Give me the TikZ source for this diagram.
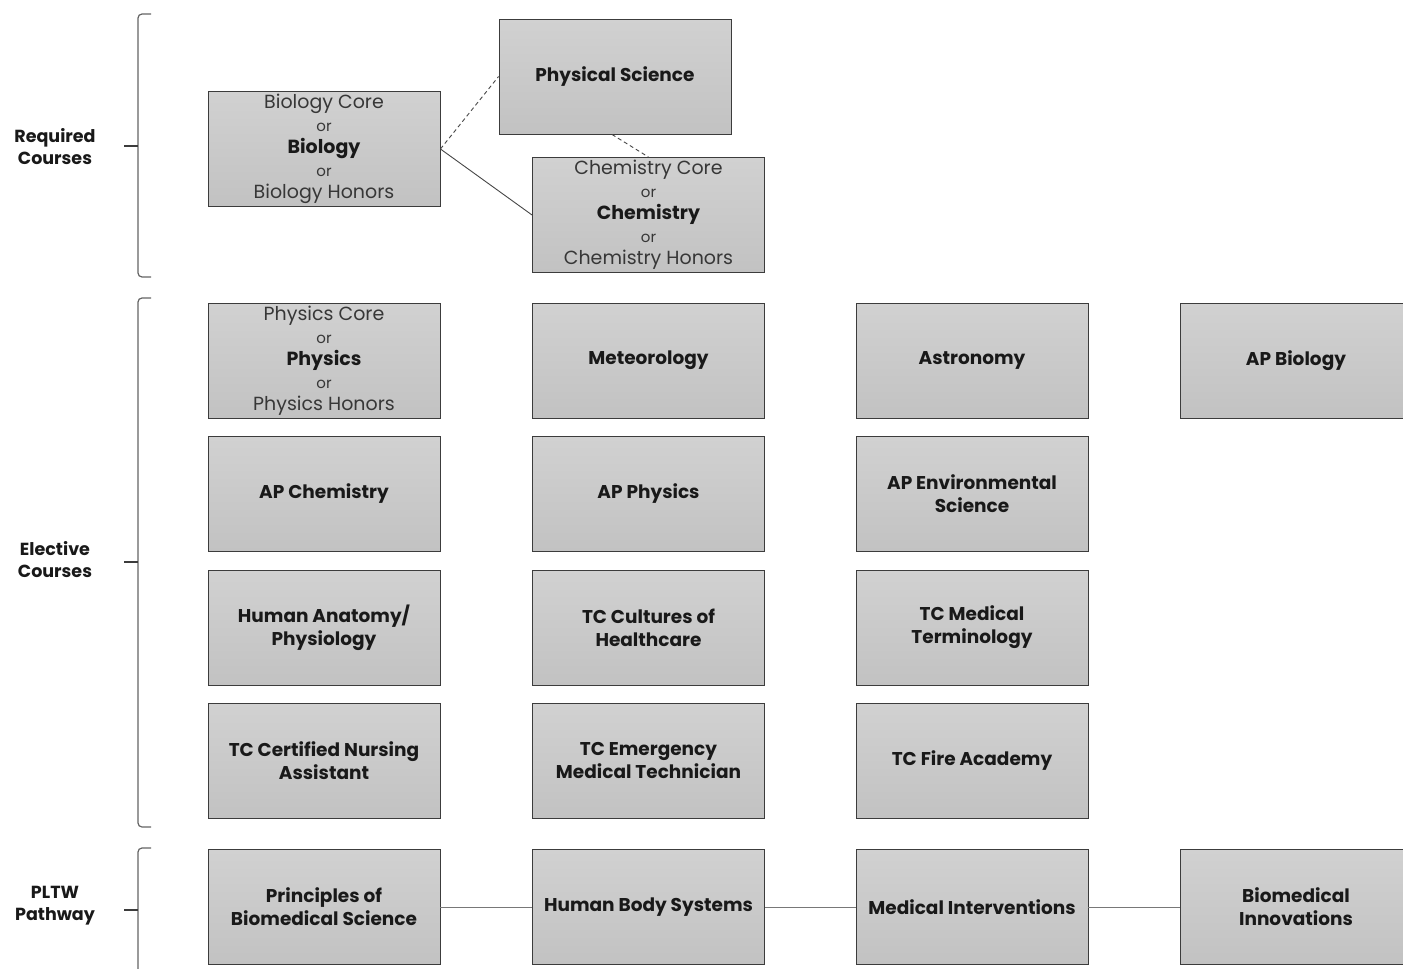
\documentclass[tikz,border=0pt]{standalone}
\usepackage{fontspec}
\setmainfont{Poppins}
\definecolor{boxtop}{RGB}{209,209,209}
\definecolor{boxbot}{RGB}{194,194,194}
\definecolor{boxline}{RGB}{60,60,60}
\definecolor{txtdark}{RGB}{25,25,25}
\definecolor{txtgray}{RGB}{55,55,55}
\definecolor{brk}{RGB}{100,100,100}
\definecolor{conn}{RGB}{70,70,70}
\definecolor{pconn}{RGB}{120,120,120}
\tikzset{
  course/.style={draw=boxline, line width=0.9pt, top color=boxtop, bottom color=boxbot,
    minimum width=232pt, minimum height=115pt, inner sep=0pt, align=center,
    text=txtdark, font=\fontsize{18.5}{23}\selectfont\bfseries},
  multi/.style={course, text=txtgray, font=\fontsize{19}{22.5}\selectfont},
  grouplbl/.style={align=center, text=txtdark, font=\fontsize{17.5}{22}\selectfont\bfseries},
  brace/.style={draw=brk, line width=1.2pt, rounded corners=4pt},
  bracetip/.style={draw=boxline, line width=1.4pt},
  solidconn/.style={draw=conn, line width=0.9pt},
  dashconn/.style={draw=conn, line width=0.9pt, dash pattern=on 4pt off 3pt},
  pathconn/.style={draw=pconn, line width=1pt}
}
\newcommand{\orw}{{\fontsize{15}{22.5}\selectfont or}}
\begin{document}
\begin{tikzpicture}[x=1pt,y=-1pt]
\useasboundingbox (0,0) rectangle (1403,969);
% group labels
\node[grouplbl] (lreq) at (55,147) {Required\\Courses};
\node[grouplbl] (lele) at (55,560) {Elective\\Courses};
\node[grouplbl] (lpl) at (55,906) {PLTW\\Pathway};
% braces
\draw[brace] (151,14) -- (138,14) -- (138,277) -- (151,277);
\draw[bracetip] (124,146) -- (138,146);
\draw[brace] (151,298) -- (138,298) -- (138,827) -- (151,827);
\draw[bracetip] (124,562) -- (138,562);
\draw[brace] (151,848) -- (138,848) -- (138,980);
\draw[bracetip] (124,910) -- (138,910);
% required
\node[multi] (bio) at (324,149) {Biology Core\\\orw\\{\bfseries\color{txtdark}Biology}\\\orw\\Biology Honors};
\node[course] (phs) at (615,76.5) {Physical Science};
\node[multi] (chem) at (648.5,215) {Chemistry Core\\\orw\\{\bfseries\color{txtdark}Chemistry}\\\orw\\Chemistry Honors};
% electives row 1
\node[multi] (phy) at (324,361) {Physics Core\\\orw\\{\bfseries\color{txtdark}Physics}\\\orw\\Physics Honors};
\node[course] (met) at (648.5,360.5) {Meteorology};
\node[course] (ast) at (972,360.5) {Astronomy};
\node[course] (apb) at (1296,360.5) {AP Biology};
% row 2
\node[course] (apc) at (324,494) {AP Chemistry};
\node[course] (app) at (648.5,494) {AP Physics};
\node[course] (ape) at (972,494) {AP Environmental\\Science};
% row 3
\node[course] (hap) at (324,627.5) {Human Anatomy/\\Physiology};
\node[course] (tcc) at (648.5,627.5) {TC Cultures of\\Healthcare};
\node[course] (tcm) at (972,627.5) {TC Medical\\Terminology};
% row 4
\node[course] (tcn) at (324,760.5) {TC Certified Nursing\\Assistant};
\node[course] (tce) at (648.5,760.5) {TC Emergency\\Medical Technician};
\node[course] (tcf) at (972,760.5) {TC Fire Academy};
% PLTW
\node[course] (pbs) at (324,907) {Principles of\\Biomedical Science};
\node[course] (hbs) at (648.5,907) {Human Body Systems};
\node[course] (mi) at (972,907) {Medical Interventions};
\node[course] (bi) at (1296,907) {Biomedical\\Innovations};
% connectors
\draw[dashconn] (bio.east) -- (phs.west);
\draw[solidconn] (bio.east) -- (chem.west);
\draw[dashconn] ([xshift=-3pt]phs.south) -- (chem.north);
\draw[pathconn] (pbs.east) -- (hbs.west);
\draw[pathconn] (hbs.east) -- (mi.west);
\draw[pathconn] (mi.east) -- (bi.west);
\end{tikzpicture}
\end{document}
